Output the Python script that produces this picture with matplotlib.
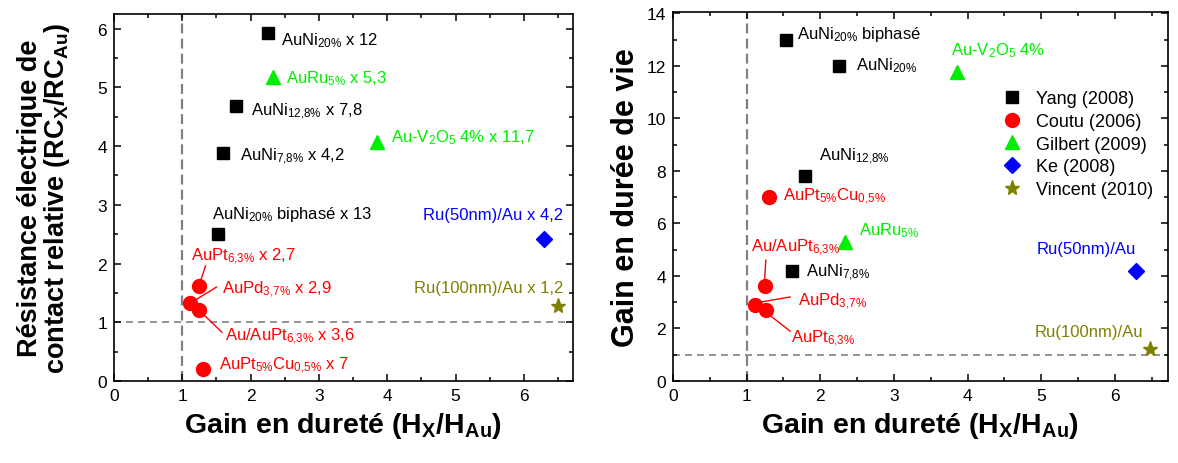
import numpy as np
import matplotlib
matplotlib.use('Agg')
import matplotlib.pyplot as plt
from matplotlib.ticker import MultipleLocator

plt.rcParams['font.family'] = ['Liberation Sans', 'DejaVu Sans']
plt.rcParams['mathtext.fontset'] = 'custom'
plt.rcParams['mathtext.rm'] = 'Liberation Sans'
plt.rcParams['mathtext.bf'] = 'Liberation Sans:bold'
plt.rcParams['mathtext.default'] = 'regular'

# ---- data (left panel: contact resistance vs hardness) ----
yang_x_rc = [2.26, 1.78, 1.59, 1.52]
yang_y_rc = [5.93, 4.68, 3.88, 2.51]
coutu_x_rc = [1.24, 1.11, 1.24, 1.30]
coutu_y_rc = [1.61, 1.32, 1.21, 0.20]
gilbert_x_rc = [2.33, 3.85]
gilbert_y_rc = [5.17, 4.07]
ke_x_rc = [6.30]
ke_y_rc = [2.42]
vincent_x_rc = [6.50]
vincent_y_rc = [1.27]

# ---- data (right panel: lifetime vs hardness) ----
yang_x_life = [1.53, 2.26, 1.79, 1.61]
yang_y_life = [13.0, 12.0, 7.8, 4.2]
coutu_x_life = [1.31, 1.25, 1.12, 1.26]
coutu_y_life = [7.0, 3.6, 2.9, 2.7]
gilbert_x_life = [3.85, 2.34]
gilbert_y_life = [11.75, 5.3]
ke_x_life = [6.28]
ke_y_life = [4.2]
vincent_x_life = [6.47]
vincent_y_life = [1.22]

legend_labels = ['Yang (2008)', 'Coutu (2006)', 'Gilbert (2009)', 'Ke (2008)', 'Vincent (2010)']

BLACK = 'black'
RED = '#ff0000'
GREEN = '#00ee00'
BLUE = '#0000ff'
OLIVE = '#808000'
GREY = '#808080'

fs_txt = 12
fs_tick = 12.5


def style_axes(ax, ymax, ymajor, yminor):
    ax.set_xlim(0, 6.72)
    ax.set_ylim(0, ymax)
    ax.xaxis.set_major_locator(MultipleLocator(1))
    ax.xaxis.set_minor_locator(MultipleLocator(0.5))
    ax.yaxis.set_major_locator(MultipleLocator(ymajor))
    ax.yaxis.set_minor_locator(MultipleLocator(yminor))
    ax.tick_params(which='both', direction='in', top=True, right=True, width=1.1)
    ax.tick_params(which='major', length=5, labelsize=fs_tick, pad=5)
    ax.tick_params(which='minor', length=3)
    for sp in ax.spines.values():
        sp.set_linewidth(1.2)
    ax.axvline(1, color=GREY, lw=1.6, dashes=(4.5, 2.3), zorder=1)
    ax.axhline(1, color=GREY, lw=1.2, dashes=(4.2, 3), zorder=1)
    ax.set_xlabel('Gain en dureté (H$_X$/H$_{Au}$)', fontsize=20.5, fontweight='bold', labelpad=5)


def scatter_sets(ax, data):
    (yx, yy), (cx, cy), (gx, gy), (kx, ky), (vx, vy) = data
    h = []
    h += ax.plot(yx, yy, 's', color=BLACK, ms=8, ls='none', zorder=3)
    h += ax.plot(cx, cy, 'o', color=RED, ms=10, ls='none', zorder=3)
    h += ax.plot(gx, gy, '^', color=GREEN, ms=10, ls='none', zorder=3)
    h += ax.plot(kx, ky, 'D', color=BLUE, ms=8, ls='none', zorder=3)
    h += ax.plot(vx, vy, '*', color=OLIVE, ms=11, ls='none', zorder=3)
    return h


fig = plt.figure(figsize=(11.78, 4.64), dpi=100)
ax1 = fig.add_axes([0.0968, 0.1767, 0.3896, 0.791])
ax2 = fig.add_axes([0.5713, 0.1767, 0.4202, 0.7953])

# ---------- left panel ----------
style_axes(ax1, 6.25, 1, 0.5)
scatter_sets(ax1, [(yang_x_rc, yang_y_rc), (coutu_x_rc, coutu_y_rc),
                   (gilbert_x_rc, gilbert_y_rc), (ke_x_rc, ke_y_rc),
                   (vincent_x_rc, vincent_y_rc)])
ax1.set_ylabel('Résistance électrique de\ncontact relative (RC$_X$/RC$_{Au}$)',
               fontsize=19.5, fontweight='bold', linespacing=0.95, labelpad=18)

t = dict(fontsize=fs_txt, va='baseline')
ax1.text(2.44, 5.73, 'AuNi$_{20\\%}$ x 12', color=BLACK, **t)
ax1.text(2.52, 5.08, 'AuRu$_{5\\%}$ x 5,3', color=GREEN, **t)
ax1.text(2.01, 4.54, 'AuNi$_{12{,}8\\%}$ x 7,8', color=BLACK, **t)
ax1.text(4.06, 4.09, 'Au-V$_2$O$_5$ 4% x 11,7', color=GREEN, **t)
ax1.text(1.84, 3.76, 'AuNi$_{7{,}8\\%}$ x 4,2', color=BLACK, **t)
ax1.text(1.44, 2.78, 'AuNi$_{20\\%}$ biphasé x 13', color=BLACK, **t)
ax1.text(1.12, 2.07, 'AuPt$_{6{,}3\\%}$ x 2,7', color=RED, **t)
ax1.text(1.58, 1.50, 'AuPd$_{3{,}7\\%}$ x 2,9', color=RED, **t)
ax1.text(1.63, 0.70, 'Au/AuPt$_{6{,}3\\%}$ x 3,6', color=RED, **t)
ax1.text(1.54, 0.21, 'AuPt$_{5\\%}$Cu$_{0{,}5\\%}$ x 7', color=RED, **t)
ax1.text(6.57, 2.76, 'Ru(50nm)/Au x 4,2', color=BLUE, ha='right', fontsize=fs_txt, va='baseline')
ax1.text(6.58, 1.51, 'Ru(100nm)/Au x 1,2', color=OLIVE, ha='right', fontsize=fs_txt, va='baseline')
# leader lines
ax1.plot([1.24, 1.34], [1.61, 1.96], color=RED, lw=1)
ax1.plot([1.11, 1.50], [1.32, 1.60], color=RED, lw=1)
ax1.plot([1.24, 1.58], [1.21, 0.83], color=RED, lw=1)

# ---------- right panel ----------
style_axes(ax2, 14.05, 2, 1)
handles = scatter_sets(ax2, [(yang_x_life, yang_y_life), (coutu_x_life, coutu_y_life),
                             (gilbert_x_life, gilbert_y_life), (ke_x_life, ke_y_life),
                             (vincent_x_life, vincent_y_life)])
ax2.set_ylabel('Gain en durée de vie', fontsize=22, fontweight='bold', labelpad=4)

ax2.text(1.69, 13.05, 'AuNi$_{20\\%}$ biphasé', color=BLACK, **t)
ax2.text(2.49, 11.87, 'AuNi$_{20\\%}$', color=BLACK, **t)
ax2.text(3.78, 12.45, 'Au-V$_2$O$_5$ 4%', color=GREEN, **t)
ax2.text(1.98, 8.42, 'AuNi$_{12{,}8\\%}$', color=BLACK, **t)
ax2.text(1.50, 6.90, 'AuPt$_{5\\%}$Cu$_{0{,}5\\%}$', color=RED, **t)
ax2.text(2.52, 5.59, 'AuRu$_{5\\%}$', color=GREEN, **t)
ax2.text(1.06, 4.95, 'Au/AuPt$_{6{,}3\\%}$', color=RED, **t)
ax2.text(1.81, 4.00, 'AuNi$_{7{,}8\\%}$', color=BLACK, **t)
ax2.text(1.70, 2.92, 'AuPd$_{3{,}7\\%}$', color=RED, **t)
ax2.text(1.60, 1.50, 'AuPt$_{6{,}3\\%}$', color=RED, **t)
ax2.text(4.93, 4.89, 'Ru(50nm)/Au', color=BLUE, **t)
ax2.text(4.91, 1.71, 'Ru(100nm)/Au', color=OLIVE, **t)
ax2.plot([1.26, 1.24], [4.60, 3.68], color=RED, lw=1)
ax2.plot([1.16, 1.59], [2.99, 3.20], color=RED, lw=1)
ax2.plot([1.27, 1.59], [2.60, 1.90], color=RED, lw=1)

ax2.legend(handles, legend_labels, loc='upper left', bbox_to_anchor=(0.648, 0.808),
           frameon=False, fontsize=13, handletextpad=0.75, labelspacing=0.32,
           handlelength=1.2, borderaxespad=0.0)

fig.savefig('out.png', dpi=100)
